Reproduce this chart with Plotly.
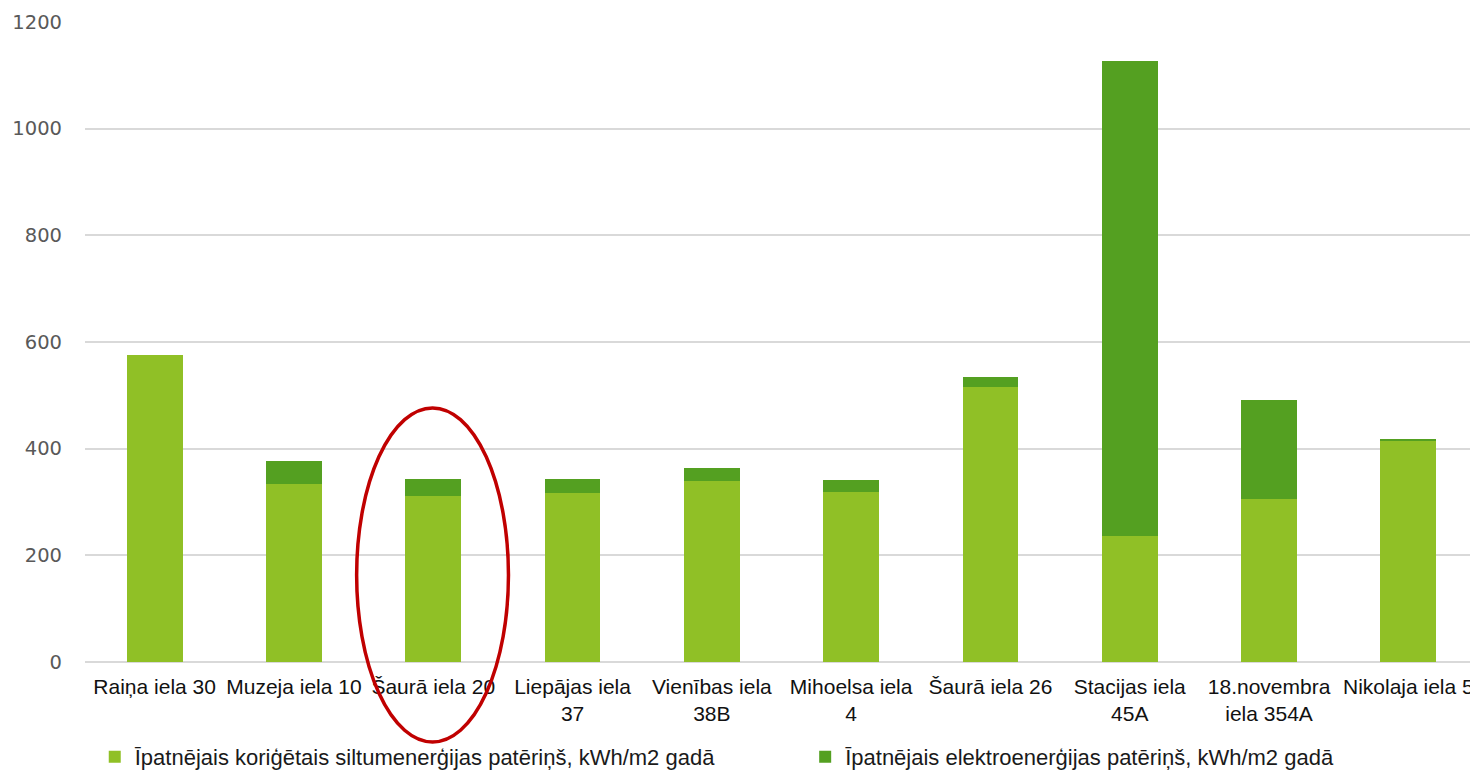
import plotly.graph_objects as go

categories = [
    "Raiņa iela 30", "Muzeja iela 10", "Šaurā iela 20", "Liepājas iela<br>37",
    "Vienības iela<br>38B", "Mihoelsa iela<br>4", "Šaurā iela 26",
    "Stacijas iela<br>45A", "18.novembra<br>iela 354A", "Nikolaja iela 5",
]
heat = [576, 334, 311, 317, 340, 319, 516, 236, 306, 414]
elec = [0, 43, 33, 26, 24, 23, 18, 891, 186, 4]
series_names = [
    "Īpatnējais koriģētais siltumenerģijas patēriņš, kWh/m2 gadā",
    "Īpatnējais elektroenerģijas patēriņš, kWh/m2 gadā",
]
y_ticks = [0, 200, 400, 600, 800, 1000, 1200]

FONT = "Liberation Sans, Arial, sans-serif"

fig = go.Figure()
fig.add_trace(go.Bar(
    x=categories, y=heat, name=series_names[0], legend="legend",
    marker=dict(color="#90C026", line=dict(width=0)),
))
fig.add_trace(go.Bar(
    x=categories, y=elec, name=series_names[1], legend="legend2",
    marker=dict(color="#54A021", line=dict(width=0)),
))

legend_common = dict(
    orientation="h", xanchor="left", yanchor="middle", y=-0.149,
    font=dict(size=22, color="#1a1a1a", family=FONT),
    bgcolor="rgba(0,0,0,0)", borderwidth=0,
)

fig.update_layout(
    barmode="stack",
    bargap=0.6,
    width=1470, height=770,
    margin=dict(l=77, r=0, t=14, b=116),
    plot_bgcolor="white", paper_bgcolor="white",
    font=dict(family=FONT, color="#1a1a1a"),
    showlegend=True,
    legend=dict(x=0.007, **legend_common),
    legend2=dict(x=0.517, **legend_common),
    xaxis=dict(
        tickfont=dict(size=21, color="#111111", family=FONT),
        showline=False, showgrid=False, ticks="", tickangle=0,
        ticklabelstandoff=10,
    ),
    yaxis=dict(
        range=[0, 1200], tickvals=y_ticks,
        tickfont=dict(size=19.5, color="#595959", family="DejaVu Sans, Verdana, sans-serif"),
        showgrid=True, gridcolor="#d9d9d9", gridwidth=1.5,
        zeroline=True, zerolinecolor="#d9d9d9", zerolinewidth=1.5,
        showline=False, ticks="", ticklabelstandoff=22,
    ),
    shapes=[dict(
        type="circle", xref="paper", yref="paper",
        x0=0.195, x1=0.304, y0=-0.125, y1=0.397,
        line=dict(color="#C00000", width=3.5), fillcolor="rgba(0,0,0,0)",
    )],
)

fig.write_html("out.html")
